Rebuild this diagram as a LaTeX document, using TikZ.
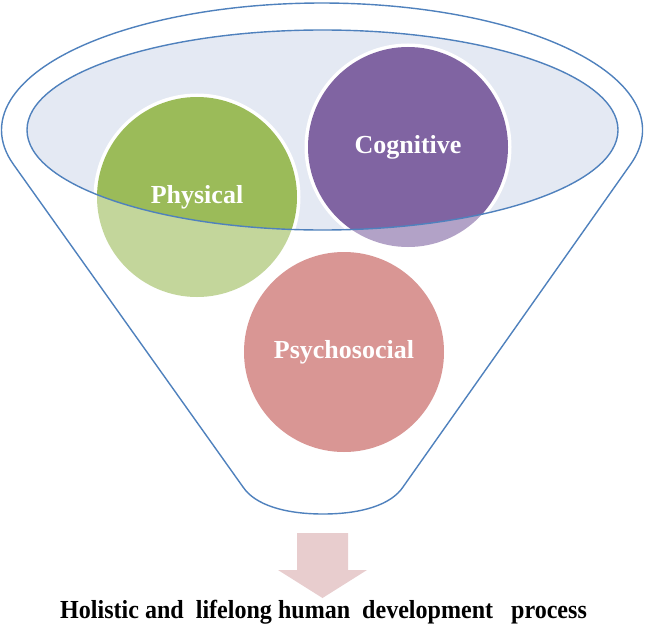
\documentclass[tikz,border=0pt]{standalone}
\usepackage{fontspec}
\setmainfont{Liberation Serif}
\definecolor{rimblue}{HTML}{4F81BD}
\definecolor{rimfill}{HTML}{E4E9F3}
\definecolor{cgreen}{HTML}{9BBB59}
\definecolor{cpurple}{HTML}{8064A2}
\definecolor{cred}{HTML}{C0504D}
\definecolor{arrowpink}{HTML}{E8CDCE}
\begin{document}
\begin{tikzpicture}[x=1pt,y=-1pt,
  ball/.style={circle, minimum size=200pt, inner sep=0pt, text=white,
    font=\fontsize{26}{28}\selectfont\bfseries},
  halo/.style={fill=white, draw=white, line width=3pt},
  rimline/.style={draw=rimblue, line width=1.4pt}]
\useasboundingbox (0,0) rectangle (645,626);
% inner rim fill
\fill[rimfill] (322.5,130) circle[x radius=295.5pt, y radius=100pt];
% halos
\foreach \p in {(197,197),(408,147),(344,352)}
  \fill[halo] \p circle (102pt);
% balls
\node[ball, fill=cgreen] (phys) at (197,197) {Physical};
\node[ball, fill=cpurple] (cogn) at (408,147) {Cognitive};
\node[ball, fill=cred] (psych) at (344,352) {Psychosocial};
% lighten everything outside the rim
\fill[white, fill opacity=0.4, even odd rule] (0,0) rectangle (645,626)
  (322.5,130) circle[x radius=295.5pt, y radius=100pt];
% inner rim border
\draw[rimline] (322.5,130) circle[x radius=295.5pt, y radius=100pt];
% outer funnel
\draw[rimline, line join=round] (630.5,164.4)
  arc[start angle=-15.7, end angle=195.7, x radius=320.5pt, y radius=127pt]
  -- (243,487) .. controls (255,505) and (285,514) .. (323,514)
  .. controls (361,514) and (391,505) .. (403,487) -- cycle;
% arrow
\fill[arrowpink] (297,533) -- (348,533) -- (348,570) -- (367,570)
  -- (322.5,598) -- (278,570) -- (297,570) -- cycle;
% caption
\node[font=\fontsize{26}{28}\selectfont\bfseries, anchor=base west, inner sep=0pt,
  xscale=0.925]
  (caption) at (60,618)
  {Holistic and\hspace{0.25em} lifelong human\hspace{0.25em} development\hspace{0.5em} process};
\end{tikzpicture}
\end{document}
